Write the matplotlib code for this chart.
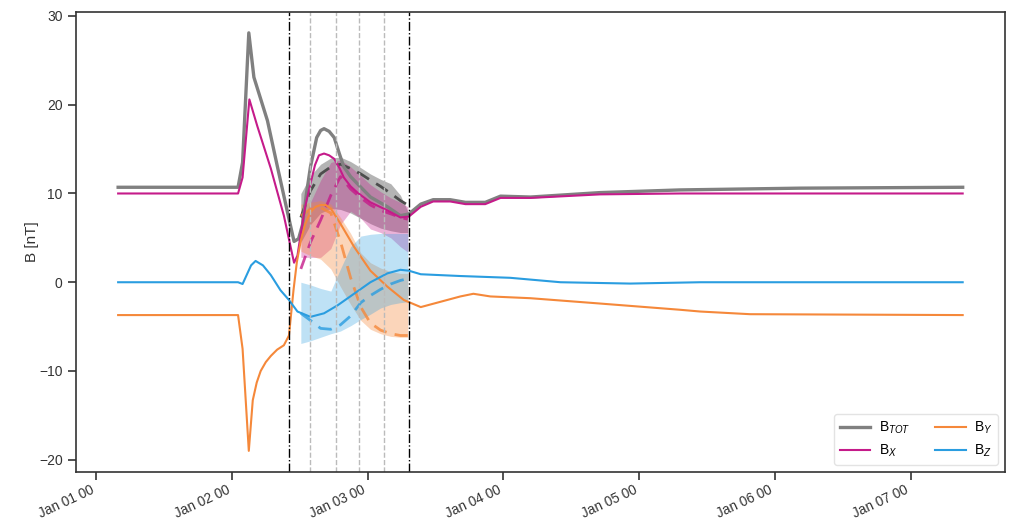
import pandas as pd
import matplotlib.pyplot as plt
import matplotlib.dates as mdates

plt.rcParams['font.family'] = ['Liberation Sans', 'DejaVu Sans']
plt.rcParams['mathtext.fontset'] = 'custom'
plt.rcParams['mathtext.it'] = 'Liberation Sans:italic'
plt.rcParams['mathtext.rm'] = 'Liberation Sans'

base = pd.Timestamp('2024-01-01 00:00')

# observed / modelled field, hours since Jan 01 00
tot_h = [3.9, 25.1, 25.9, 27.0, 27.9, 30.3, 32.1, 33.8, 35.0, 35.8, 36.5, 37.2, 37.9, 39.0, 39.7, 40.3,
         41.2, 42.1, 43.0, 43.8, 45.0, 46.2, 48.5, 51.5, 53.8, 55.3, 57.4, 59.6, 62.6, 65.3, 68.8, 71.5,
         76.8, 89.1, 103.2, 124.4, 153.2]
tot_v = [10.7, 10.7, 13.5, 28.1, 23.1, 18.2, 12.9, 8.0, 4.6, 4.9, 6.5, 10.0, 13.0, 16.3, 17.1, 17.3,
         17.0, 16.3, 14.5, 13.0, 11.9, 11.1, 9.6, 8.5, 7.5, 7.7, 8.8, 9.3, 9.3, 9.0, 9.0, 9.7,
         9.6, 10.1, 10.4, 10.6, 10.7]

bx_h = [3.9, 25.1, 25.9, 27.1, 28.5, 30.9, 33.2, 35.0, 35.6, 36.2, 37.0, 37.9, 38.7, 39.4, 40.3, 41.2,
        42.1, 43.0, 43.8, 45.0, 46.2, 48.5, 51.5, 53.8, 55.3, 57.4, 59.6, 62.6, 65.3, 68.8, 71.5, 76.8,
        89.1, 103.2, 153.2]
bx_v = [10.0, 10.0, 11.8, 20.6, 17.6, 12.8, 7.5, 2.2, 3.0, 5.5, 8.6, 11.1, 13.2, 14.3, 14.5, 14.3,
        13.9, 12.9, 11.8, 10.8, 10.1, 9.0, 8.1, 7.3, 7.4, 8.5, 9.1, 9.1, 8.8, 8.8, 9.5, 9.5,
        9.9, 10.0, 10.0]

by_h = [3.9, 25.1, 25.9, 27.0, 27.7, 28.4, 29.1, 30.0, 30.9, 32.0, 33.2, 34.1, 34.9, 35.5, 36.2, 37.0,
        37.9, 38.8, 39.7, 40.6, 41.5, 43.2, 45.6, 48.5, 51.5, 54.4, 57.4, 60.9, 64.4, 66.7, 69.7, 76.8,
        89.1, 103.2, 106.8, 115.6, 153.2]
by_v = [-3.7, -3.7, -7.5, -19.0, -13.3, -11.3, -10.0, -9.0, -8.3, -7.6, -7.1, -6.0, -0.9, 2.3, 4.7, 6.6,
        7.9, 8.5, 8.7, 8.7, 8.3, 6.6, 4.0, 1.3, -0.5, -2.0, -2.8, -2.2, -1.6, -1.3, -1.6, -1.8,
        -2.4, -3.1, -3.3, -3.6, -3.7]

bz_h = [3.9, 25.1, 25.9, 27.4, 28.2, 29.5, 30.9, 32.6, 34.1, 35.6, 37.9, 40.3, 42.7, 45.6, 48.5,
        51.5, 53.8, 55.3, 57.4, 64.4, 73.2, 82.1, 94.4, 106.8, 153.2]
bz_v = [0.0, 0.0, -0.2, 1.9, 2.4, 1.9, 0.8, -0.9, -2.0, -3.3, -3.9, -3.5, -2.6, -1.3, 0.0,
        1.0, 1.4, 1.3, 0.9, 0.7, 0.5, 0.0, -0.15, 0.0, 0.0]

# ensemble mean and spread
ens_h = [36.2, 37.9, 39.7, 41.5, 43.2, 45.0, 46.8, 48.5, 50.3, 52.1, 53.8, 55.1]
tot_mean = [7.3, 10.3, 12.2, 13.0, 13.3, 12.8, 12.2, 11.5, 10.8, 10.0, 9.2, 8.7]
tot_hi = [10.0, 12.0, 13.3, 14.0, 14.1, 13.6, 12.9, 12.2, 11.6, 11.1, 9.8, 8.0]
tot_lo = [4.5, 6.5, 7.8, 8.3, 8.2, 7.8, 7.2, 6.6, 6.1, 5.8, 5.6, 5.6]
bx_mean = [1.5, 4.5, 7.0, 9.8, 11.9, 10.5, 9.5, 8.7, 8.1, 7.7, 7.3, 7.1]
bx_hi = [6.5, 9.0, 11.5, 13.5, 13.8, 13.0, 12.0, 11.0, 10.2, 9.5, 9.0, 8.5]
bx_lo = [2.8, 2.8, 2.8, 3.8, 6.5, 8.0, 7.2, 6.0, 5.6, 5.0, 4.0, 3.4]
by_mean = [7.5, 8.2, 8.4, 7.8, 4.6, 0.5, -2.8, -4.6, -5.4, -5.8, -6.0, -6.0]
by_hi = [8.8, 9.0, 9.2, 8.8, 7.3, 5.5, 3.3, 2.2, 1.6, 1.2, 1.0, 1.0]
by_lo = [3.5, 3.0, 2.6, 1.5, -0.5, -2.5, -4.3, -5.3, -5.8, -6.1, -6.2, -6.2]
bz_mean = [-3.5, -4.3, -5.2, -5.3, -4.8, -3.8, -2.3, -1.5, -0.8, -0.2, 0.2, 0.4]
bz_hi = [0.0, -0.3, -0.7, -1.0, 1.5, 4.0, 5.2, 5.4, 5.5, 5.5, 5.5, 5.5]
bz_lo = [-6.9, -6.6, -6.2, -5.8, -5.5, -4.9, -4.2, -3.6, -2.9, -2.5, -2.3, -2.2]

event_h = [34.1, 55.4]
sub_h = [37.9, 42.5, 46.5, 50.9]

c_tot, c_x, c_y, c_z = '#808080', '#c51b8a', '#f5883a', '#2a9de0'


def t(hours):
    return base + pd.to_timedelta(hours, unit='h')


fig = plt.figure(figsize=(10.12, 5.19), dpi=100)
ax = fig.add_axes([0.075, 0.091, 0.918, 0.886])

te = t(ens_h)
ax.fill_between(te, tot_lo, tot_hi, color='#5a5a5a', alpha=0.45, lw=0)
ax.fill_between(te, bx_lo, bx_hi, color=c_x, alpha=0.33, lw=0)
ax.fill_between(te, by_lo, by_hi, color=c_y, alpha=0.35, lw=0)
ax.fill_between(te, bz_lo, bz_hi, color=c_z, alpha=0.3, lw=0)

ax.plot(te, tot_mean, color='#4d4d4d', lw=2, ls=(0, (5, 3)))
ax.plot(te, bx_mean, color=c_x, lw=2, ls=(0, (5, 3)), alpha=0.8)
ax.plot(te, by_mean, color=c_y, lw=2, ls=(0, (5, 3)), alpha=0.8)
ax.plot(te, bz_mean, color=c_z, lw=2, ls=(0, (5, 3)), alpha=0.8)

ax.plot(t(tot_h), tot_v, color=c_tot, lw=2.4, label='B$_{TOT}$')
ax.plot(t(bx_h), bx_v, color=c_x, lw=1.5, label='B$_{X}$')
ax.plot(t(by_h), by_v, color=c_y, lw=1.5, label='B$_{Y}$')
ax.plot(t(bz_h), bz_v, color=c_z, lw=1.5, label='B$_{Z}$')

for h in event_h:
    ax.axvline(t(h), color='black', lw=1, ls='-.')
for h in sub_h:
    ax.axvline(t(h), color='#bbbbbb', lw=1, ls='--')

ax.xaxis.set_major_locator(mdates.DayLocator())
ax.xaxis.set_major_formatter(mdates.DateFormatter('%b %d %H'))
ax.set_yticks([-20, -10, 0, 10, 20, 30])
ax.tick_params(axis='both', labelsize=10, colors='#333333', length=6, width=1.2)
ax.tick_params(axis='x', labelsize=9.8, pad=2)
for lab in ax.get_xticklabels():
    lab.set_rotation(25)
    lab.set_ha('right')
for s in ax.spines.values():
    s.set_color('#333333')
    s.set_linewidth(1.2)
ax.set_ylabel('B [nT]', fontsize=11, color='#333333', labelpad=0)

ax.legend(loc='lower right', ncol=2, fontsize=10, frameon=True, edgecolor='#dddddd',
          columnspacing=1.8, handlelength=2.2, handletextpad=0.6)

fig.savefig('out.png', dpi=100)
